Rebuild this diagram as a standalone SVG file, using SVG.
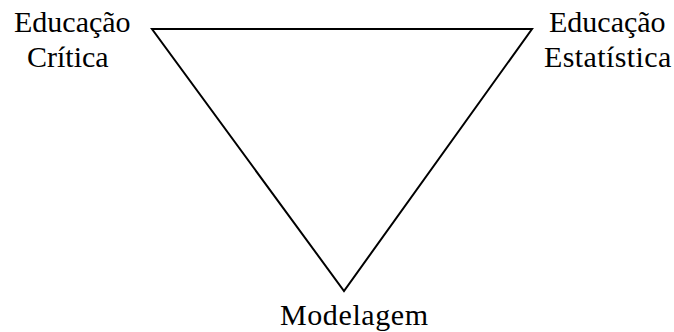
<svg xmlns="http://www.w3.org/2000/svg" width="674" height="332" viewBox="0 0 674 332">
<defs>
<style>
.edge{fill:none;stroke:#000;stroke-width:2}
.lbl{font-family:"Liberation Serif","Times New Roman",serif;font-size:30px;fill:#000}
</style>
</defs>
<rect width="674" height="332" fill="#fff"/>
<g id="connectors">
<polygon class="edge" points="152,29 532,29 344,291"/>
</g>
<g id="node-critica">
<text class="lbl" x="14" y="32">Educação</text>
<text class="lbl" x="27" y="67">Crítica</text>
</g>
<g id="node-estatistica">
<text class="lbl" x="549" y="32">Educação</text>
<text class="lbl" x="544" y="67" letter-spacing="0.4">Estatística</text>
</g>
<g id="node-modelagem">
<text class="lbl" x="280" y="325" letter-spacing="0.6">Modelagem</text>
</g>
</svg>
